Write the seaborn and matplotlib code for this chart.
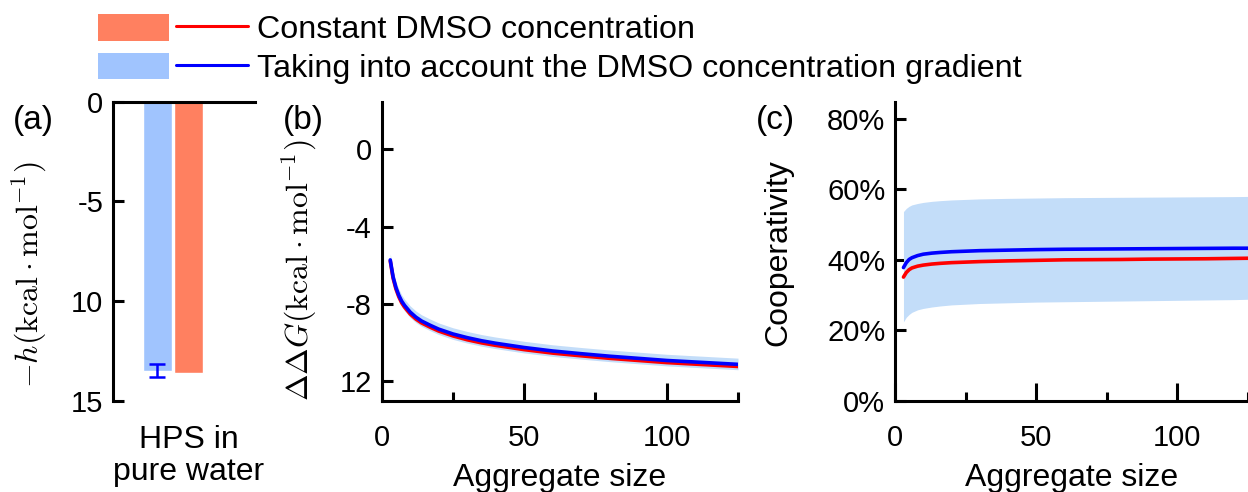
import numpy as np
import pandas as pd
import matplotlib
matplotlib.use("Agg")
import matplotlib.pyplot as plt
import seaborn as sns
from matplotlib.patches import Patch
from matplotlib.lines import Line2D
from matplotlib.legend_handler import HandlerTuple
from matplotlib.ticker import FixedLocator, FixedFormatter, PercentFormatter

# ---------------- data ----------------
LABEL_CONST = "Constant DMSO concentration"
LABEL_GRAD = "Taking into account the DMSO concentration gradient"

# panel (a)
system_label = "HPS in\npure water"
h_values = [-13.50, -13.63]          # gradient, constant
h_err_grad = 0.33
a_yticks = [0, -5, -10, -15]
a_yticklabels = ["0", "-5", "10", "15"]

# panel (b)
size_b = [3, 4, 5, 6, 7, 8, 10, 12, 14, 17, 20, 25, 30, 35, 40, 50, 60, 70, 80, 90, 100, 110, 120, 125]
ddg_grad = [-5.72, -6.60, -7.15, -7.55, -7.85, -8.07, -8.42, -8.68, -8.88, -9.10, -9.30, -9.55,
            -9.74, -9.90, -10.03, -10.25, -10.43, -10.57, -10.70, -10.81, -10.92, -11.00, -11.08, -11.12]
ddg_const = [-5.78, -6.67, -7.23, -7.63, -7.94, -8.16, -8.52, -8.78, -8.98, -9.20, -9.40, -9.65,
             -9.85, -10.01, -10.14, -10.36, -10.54, -10.68, -10.81, -10.92, -11.03, -11.11, -11.19, -11.23]
ddg_hi = [-5.40, -6.28, -6.83, -7.23, -7.53, -7.75, -8.10, -8.36, -8.56, -8.78, -8.98, -9.23,
          -9.42, -9.58, -9.71, -9.93, -10.11, -10.25, -10.38, -10.49, -10.60, -10.68, -10.76, -10.80]
ddg_lo = [-6.00, -6.88, -7.43, -7.83, -8.13, -8.35, -8.70, -8.96, -9.16, -9.38, -9.58, -9.83,
          -10.02, -10.18, -10.31, -10.53, -10.71, -10.85, -10.98, -11.09, -11.20, -11.28, -11.36, -11.40]
b_yticks = [0, -4, -8, -12]
b_yticklabels = ["0", "-4", "-8", "12"]

# panel (c)
size_c = [3, 4, 5, 6, 8, 10, 13, 16, 20, 25, 30, 40, 50, 60, 70, 80, 90, 100, 110, 120, 125]
coop_grad = [0.378, 0.392, 0.401, 0.406, 0.412, 0.416, 0.419, 0.421, 0.423, 0.4245, 0.426, 0.4275,
             0.429, 0.430, 0.4305, 0.431, 0.4315, 0.432, 0.4325, 0.433, 0.433]
coop_const = [0.351, 0.364, 0.372, 0.377, 0.382, 0.385, 0.388, 0.390, 0.392, 0.3935, 0.395, 0.397,
              0.3985, 0.400, 0.4005, 0.401, 0.402, 0.4025, 0.403, 0.404, 0.4045]
coop_hi = [0.537, 0.546, 0.552, 0.556, 0.560, 0.563, 0.566, 0.568, 0.570, 0.5715, 0.573, 0.5745,
           0.5755, 0.5765, 0.577, 0.5775, 0.578, 0.5785, 0.579, 0.5795, 0.580]
coop_lo = [0.224, 0.237, 0.245, 0.251, 0.258, 0.262, 0.266, 0.269, 0.272, 0.274, 0.276, 0.278,
           0.280, 0.281, 0.282, 0.283, 0.284, 0.285, 0.286, 0.287, 0.288]

# ---------------- style ----------------
sns.set_theme(style="ticks")
plt.rcParams["font.family"] = ["Liberation Sans", "DejaVu Sans"]
plt.rcParams["mathtext.fontset"] = "cm"
plt.rcParams["text.color"] = "black"
plt.rcParams["axes.labelcolor"] = "black"
plt.rcParams["xtick.color"] = "black"
plt.rcParams["ytick.color"] = "black"

C_SALMON = "#ff8060"
C_LBLUE = "#a0c4fe"
C_BAND = "#c3ddf9"
C_RED = "#ff0000"
C_BLUE = "#0000ff"
SPW = 2.2
TICK_FS = 21
LAB_FS = 23

W, H = 1248, 492
fig = plt.figure(figsize=(W / 100, H / 100), dpi=100)

def px_axes(left, right, top, bottom):
    return fig.add_axes([left / W, 1 - bottom / H, (right - left) / W, (bottom - top) / H])

ax_a = px_axes(113, 255, 101.7, 400.7)
ax_b = px_axes(381.7, 738, 101.7, 400.7)
ax_c = px_axes(895, 1248, 101.7, 400.7)

for ax in (ax_a, ax_b, ax_c):
    ax.set_facecolor("none")
    for s in ax.spines.values():
        s.set_linewidth(SPW)
        s.set_color("black")
    ax.tick_params(which="both", direction="in", width=SPW, color="black",
                   labelsize=TICK_FS, labelcolor="black")
    ax.tick_params(axis="y", which="major", length=8, pad=7)
    ax.tick_params(axis="x", which="major", length=13, pad=17)
    ax.tick_params(axis="x", which="minor", length=6.5)

# ---------------- panel (a) ----------------
df_a = pd.DataFrame({
    "system": [system_label, system_label],
    "model": [LABEL_GRAD, LABEL_CONST],
    "h": h_values,
})
sns.barplot(data=df_a, x="system", y="h", hue="model", hue_order=[LABEL_GRAD, LABEL_CONST],
            palette=[C_LBLUE, C_SALMON], errorbar=None, gap=0.075, legend=False,
            ax=ax_a, saturation=1)
bar_grad = ax_a.patches[0]
ax_a.errorbar(bar_grad.get_x() + bar_grad.get_width() / 2, h_values[0], yerr=h_err_grad,
              color=C_BLUE, capsize=5.5, elinewidth=1.8, capthick=1.8, fmt="none")
ax_a.set_ylim(-15, 0)
ax_a.set_xlim(-0.764, 1.049)
ax_a.yaxis.set_major_locator(FixedLocator(a_yticks))
ax_a.yaxis.set_major_formatter(FixedFormatter(a_yticklabels))
ax_a.spines["bottom"].set_visible(False)
ax_a.spines["right"].set_visible(False)
ax_a.spines["top"].set_visible(True)
ax_a.tick_params(axis="x", length=0, labelbottom=False)
ax_a.set_xlabel(system_label, fontsize=LAB_FS, linespacing=1.1)
ax_a.xaxis.set_label_coords(0.535, -0.08)
ax_a.xaxis.label.set_verticalalignment("top")
ax_a.set_ylabel(r"$-h(\mathrm{kcal\cdot mol^{-1}})$", fontsize=23)
ax_a.yaxis.set_label_coords(-0.45, 0.42)

# ---------------- panel (b) ----------------
df_b = pd.DataFrame({
    "size": size_b * 2,
    "ddg": ddg_const + ddg_grad,
    "model": [LABEL_CONST] * len(size_b) + [LABEL_GRAD] * len(size_b),
})
ax_b.fill_between(size_b, ddg_lo, ddg_hi, color=C_BAND, lw=0)
sns.lineplot(data=df_b, x="size", y="ddg", hue="model", hue_order=[LABEL_CONST, LABEL_GRAD],
             palette=[C_RED, C_BLUE], linewidth=2.6, legend=False, ax=ax_b)
ax_b.set_xlim(0, 125)
ax_b.set_ylim(-13, 2.46)
ax_b.xaxis.set_major_locator(FixedLocator([0, 50, 100]))
ax_b.xaxis.set_minor_locator(FixedLocator([25, 75, 125]))
ax_b.yaxis.set_major_locator(FixedLocator(b_yticks))
ax_b.yaxis.set_major_formatter(FixedFormatter(b_yticklabels))
ax_b.spines["top"].set_visible(False)
ax_b.spines["right"].set_visible(False)
ax_b.set_xlabel("Aggregate size", fontsize=LAB_FS)
ax_b.set_ylabel(r"$\Delta\Delta G(\mathrm{kcal\cdot mol^{-1}})$", fontsize=23)
ax_b.yaxis.set_label_coords(-0.176, 0.437)
ax_b.xaxis.set_label_coords(0.5, -0.207)

# ---------------- panel (c) ----------------
df_c = pd.DataFrame({
    "size": size_c * 2,
    "coop": coop_const + coop_grad,
    "model": [LABEL_CONST] * len(size_c) + [LABEL_GRAD] * len(size_c),
})
ax_c.fill_between(size_c, coop_lo, coop_hi, color=C_BAND, lw=0)
sns.lineplot(data=df_c, x="size", y="coop", hue="model", hue_order=[LABEL_CONST, LABEL_GRAD],
             palette=[C_RED, C_BLUE], linewidth=2.6, legend=False, ax=ax_c)
ax_c.set_xlim(0, 125)
ax_c.set_ylim(0, 0.849)
ax_c.xaxis.set_major_locator(FixedLocator([0, 50, 100]))
ax_c.xaxis.set_minor_locator(FixedLocator([25, 75, 125]))
ax_c.yaxis.set_major_locator(FixedLocator([0, 0.2, 0.4, 0.6, 0.8]))
ax_c.yaxis.set_major_formatter(PercentFormatter(1.0, decimals=0))
ax_c.spines["top"].set_visible(False)
ax_c.spines["right"].set_visible(False)
ax_c.set_xlabel("Aggregate size", fontsize=LAB_FS)
ax_c.set_ylabel("Cooperativity", fontsize=LAB_FS)
ax_c.yaxis.set_label_coords(-0.289, 0.494)
ax_c.xaxis.set_label_coords(0.5, -0.207)

# ---------------- panel letters ----------------
for txt, xp in (("(a)", 13), ("(b)", 283), ("(c)", 756)):
    fig.text(xp / W, 1 - 120 / H, txt, fontsize=24, ha="left", va="center")

# ---------------- legend ----------------
handles = [
    (Patch(facecolor=C_SALMON, edgecolor="none"), Line2D([], [], color=C_RED, lw=2.2)),
    (Patch(facecolor=C_LBLUE, edgecolor="none"), Line2D([], [], color=C_BLUE, lw=2.2)),
]
fig.legend(handles, [LABEL_CONST, LABEL_GRAD],
           handler_map={tuple: HandlerTuple(ndivide=None, pad=0.22)},
           loc="upper left", bbox_to_anchor=(98 / W, 1 - 14 / H), frameon=False,
           fontsize=23.2, handlelength=4.65, handleheight=0.9, handletextpad=0.27,
           labelspacing=0.22, borderpad=0, borderaxespad=0)

fig.savefig("out.png", dpi=100)
